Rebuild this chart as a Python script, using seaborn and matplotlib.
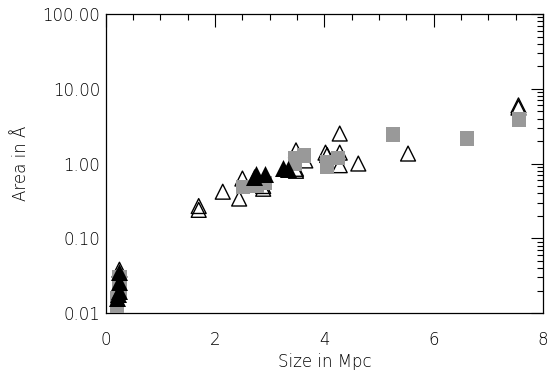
import numpy as np
import pandas as pd
import matplotlib
matplotlib.use("Agg")
import matplotlib.pyplot as plt
import seaborn as sns
from matplotlib.ticker import MultipleLocator, LogLocator, FixedLocator, FuncFormatter, NullFormatter

# open triangles
open_x = [1.70, 1.70, 2.14, 2.44, 2.50, 2.88, 2.88, 3.48, 3.48, 3.48, 3.65, 4.02, 4.05, 4.28, 4.28, 4.28, 4.62, 5.53, 7.55, 7.55, 0.25]
open_y = [0.24, 0.27, 0.42, 0.34, 0.63, 0.50, 0.46, 1.50, 0.80, 0.85, 1.10, 1.40, 1.30, 2.52, 0.95, 1.40, 1.00, 1.36, 6.0, 5.6, 0.038]
# filled black triangles
fill_x = [0.20, 0.25, 0.25, 0.22, 0.25, 2.72, 2.75, 2.91, 3.24, 3.33]
fill_y = [0.016, 0.020, 0.026, 0.018, 0.035, 0.66, 0.73, 0.73, 0.88, 0.85]
# gray squares
sq_x = [0.20, 0.20, 0.25, 0.25, 2.51, 2.76, 2.91, 3.46, 3.46, 3.63, 4.05, 4.05, 4.25, 5.26, 6.61, 7.56]
sq_y = [0.011, 0.016, 0.020, 0.030, 0.48, 0.50, 0.55, 1.17, 1.00, 1.28, 1.03, 0.90, 1.20, 2.44, 2.16, 3.88]

xlabel = "Size in Mpc"
ylabel = "Area in Å"
yticks = [0.01, 0.1, 1, 10, 100]
xticks = [0, 2, 4, 6, 8]

sns.set_style("white")
plt.rcParams['font.family'] = ['DejaVu Sans']
plt.rcParams['font.weight'] = 'light'
plt.rcParams['text.color'] = 'black'
plt.rcParams['axes.labelcolor'] = 'black'
plt.rcParams['xtick.color'] = 'black'
plt.rcParams['ytick.color'] = 'black'

df_open = pd.DataFrame({"x": open_x, "y": open_y})
df_fill = pd.DataFrame({"x": fill_x, "y": fill_y})
df_sq = pd.DataFrame({"x": sq_x, "y": sq_y})

fig = plt.figure(figsize=(5.48, 3.70), dpi=100)
ax = fig.add_axes([0.193, 0.154, 0.798, 0.808])

sns.scatterplot(data=df_open, x="x", y="y", marker="^", s=115, facecolors="none",
                edgecolor="black", linewidth=1.0, ax=ax, zorder=2)
sns.scatterplot(data=df_sq, x="x", y="y", marker="s", s=105, color="#999999",
                edgecolor="none", linewidth=0, ax=ax, zorder=3)
sns.scatterplot(data=df_fill, x="x", y="y", marker="^", s=150, color="black",
                edgecolor="black", linewidth=0, ax=ax, zorder=4)

ax.set_yscale("log")
ax.set_xlim(0, 8)
ax.set_ylim(0.01, 100)
ax.xaxis.set_major_locator(FixedLocator(xticks))
ax.xaxis.set_minor_locator(MultipleLocator(0.5))
ax.yaxis.set_major_locator(FixedLocator(yticks))
ax.yaxis.set_minor_locator(LogLocator(base=10, subs=np.arange(2, 10)))
ax.yaxis.set_minor_formatter(NullFormatter())
ax.yaxis.set_major_formatter(FuncFormatter(lambda v, p: f"{v:.2f}"))
ax.xaxis.set_major_formatter(FuncFormatter(lambda v, p: f"{v:g}"))

ax.tick_params(which="both", direction="in", top=True, right=True,
               colors="black", labelcolor="black", labelsize=12, width=0.8)
ax.tick_params(which="major", length=9)
ax.tick_params(which="minor", length=4.5)
ax.tick_params(axis="x", which="major", pad=13)
ax.tick_params(axis="y", which="major", pad=4)
for sp in ax.spines.values():
    sp.set_color("black")
    sp.set_linewidth(0.9)

ax.set_xlabel(xlabel, fontsize=12, labelpad=3, color="black", fontweight="light")
ax.set_ylabel(ylabel, fontsize=12, labelpad=9, color="black", fontweight="light")

fig.savefig("out.png", dpi=100)
